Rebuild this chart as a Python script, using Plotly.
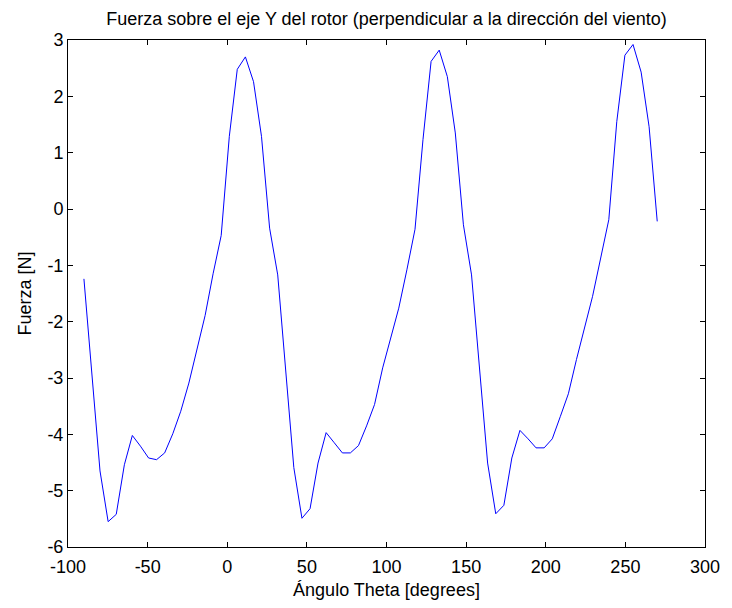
import plotly.graph_objects as go

# Angle values (degrees), 72 samples from -90 to 270
theta = [-90.0, -84.9, -79.9, -74.8, -69.7, -64.6, -59.6, -54.5, -49.4, -44.4,
         -39.3, -34.2, -29.2, -24.1, -19.0, -13.9, -8.9, -3.8, 1.3, 6.3,
         11.4, 16.5, 21.5, 26.6, 31.7, 36.8, 41.8, 46.9, 52.0, 57.0,
         62.1, 67.2, 72.3, 77.3, 82.4, 87.5, 92.5, 97.6, 102.7, 107.7,
         112.8, 117.9, 122.9, 128.0, 133.1, 138.2, 143.2, 148.3, 153.4, 158.5,
         163.5, 168.6, 173.7, 178.7, 183.8, 188.9, 193.9, 199.0, 204.1, 209.2,
         214.2, 219.3, 224.4, 229.4, 234.5, 239.6, 244.6, 249.7, 254.8, 259.9,
         264.9, 270.0]

# Force along Y axis [N]
fuerza = [-1.24, -2.95, -4.65, -5.55, -5.42, -4.54, -4.02, -4.21, -4.42, -4.45,
          -4.33, -3.99, -3.59, -3.09, -2.47, -1.89, -1.15, -0.47, 1.29, 2.48,
          2.70, 2.26, 1.29, -0.34, -1.17, -2.88, -4.59, -5.49, -5.32, -4.51,
          -3.97, -4.15, -4.33, -4.33, -4.20, -3.85, -3.47, -2.82, -2.26, -1.76,
          -1.08, -0.36, 1.23, 2.62, 2.82, 2.35, 1.35, -0.28, -1.17, -2.85,
          -4.51, -5.41, -5.26, -4.42, -3.93, -4.08, -4.24, -4.24, -4.08, -3.68,
          -3.28, -2.67, -2.11, -1.55, -0.87, -0.19, 1.55, 2.73, 2.92, 2.43,
          1.46, -0.22]

x_ticks = [-100, -50, 0, 50, 100, 150, 200, 250, 300]
x_tick_labels = ["-100", "-50", "0", "50", "100", "150", "200", "250", "300"]
y_ticks = [-6, -5, -4, -3, -2, -1, 0, 1, 2, 3]
y_tick_labels = ["-6", "-5", "-4", "-3", "-2", "-1", "0", "1", "2", "3"]

FONT = "Arial, 'Liberation Sans', sans-serif"
FS = 18

fig = go.Figure()
fig.add_trace(go.Scatter(x=theta, y=fuerza, mode="lines",
                         line=dict(color="#0000ff", width=1)))

axis_common = dict(showline=True, linecolor="black", linewidth=1, mirror="allticks",
                   ticks="inside", ticklen=5, tickcolor="black", tickwidth=1,
                   showgrid=False, zeroline=False,
                   tickfont=dict(family=FONT, size=FS, color="black"))

fig.update_xaxes(range=[-100, 300], tickvals=x_ticks, ticktext=x_tick_labels,
                 ticklabelstandoff=3,
                 title=dict(text="Ángulo Theta [degrees]", standoff=7,
                            font=dict(family=FONT, size=FS, color="black")),
                 **axis_common)
fig.update_yaxes(range=[-6, 3], tickvals=y_ticks, ticktext=y_tick_labels,
                 title=dict(text="Fuerza [N]", standoff=11,
                            font=dict(family=FONT, size=FS, color="black")),
                 **axis_common)

# page body has an 8px margin: figure is 724x600 placed at (8, 8)
fig.update_layout(
    width=724, height=600,
    margin=dict(l=60, r=20, t=32, b=61),
    paper_bgcolor="white", plot_bgcolor="white",
    showlegend=False,
    title=dict(text="Fuerza sobre el eje Y del rotor (perpendicular a la dirección del viento)",
               x=0.5, xref="paper", xanchor="center", y=1 - 11 / 600, yref="container",
               yanchor="middle", font=dict(family=FONT, size=FS, color="black")),
)

fig.write_html("out.html")
